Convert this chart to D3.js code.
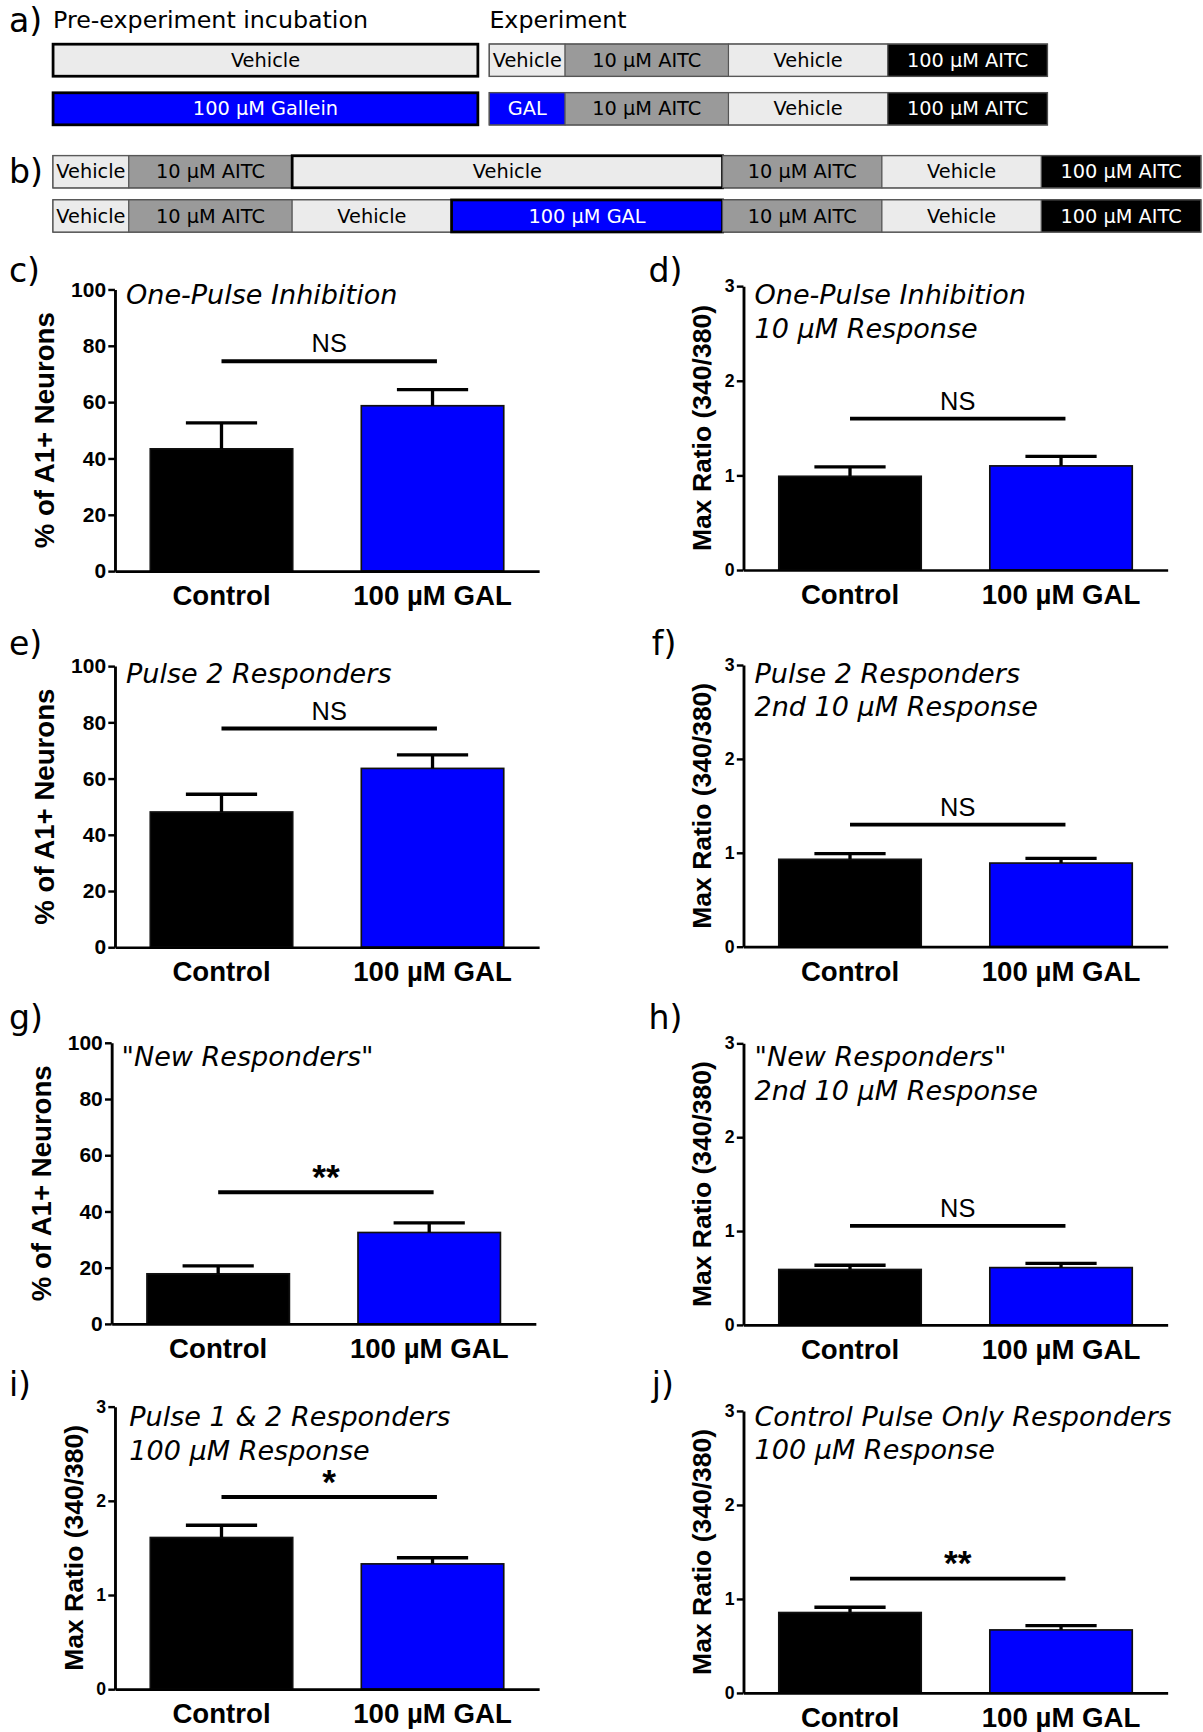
<!DOCTYPE html>
<html>
<head>
<meta charset="utf-8">
<script src="https://cdn.jsdelivr.net/npm/d3@7"></script>
<style>
  body { margin: 0; background: #fff; }
  svg { display: block; }
  .seg-label { font-family: 'DejaVu Sans', Verdana, sans-serif; font-size: 17.5px; }
  .head { font-family: 'DejaVu Sans', Verdana, sans-serif; font-size: 21.5px; }
  .plabel { font-family: 'DejaVu Sans', Verdana, sans-serif; font-size: 30px; }
  .title { font-family: 'DejaVu Sans', Verdana, sans-serif; font-size: 24.5px; font-style: italic; }
  .axis text { font-family: 'Liberation Sans', Arial, sans-serif; font-weight: bold; fill: #000; }
  .ylab { font-family: 'Liberation Sans', Arial, sans-serif; font-weight: bold; font-size: 25px; }
  .sig { font-family: 'Liberation Sans', Arial, sans-serif; font-size: 23px; }
</style>
</head>
<body>
<div id="figure"></div>
<script>
// ---- protocol timelines (segment boundaries in protocol time units) ----
var preTimes = [0, 5.33];
var preLabelsCtl = ['Vehicle'];
var preLabelsGal = ['100 µM Gallein'];
var preKindsCtl = ['veh'];
var preKindsGal = ['gal'];

var expTimes = [0, 0.95, 3, 5, 7];
var expLabelsCtl = ['Vehicle', '10 µM AITC', 'Vehicle', '100 µM AITC'];
var expLabelsGal = ['GAL', '10 µM AITC', 'Vehicle', '100 µM AITC'];
var expKindsCtl = ['veh', 'aitc10', 'veh', 'aitc100'];
var expKindsGal = ['gal', 'aitc10', 'veh', 'aitc100'];

var bTimesCtl = [0, 0.95, 3, 8.4, 10.4, 12.4, 14.4];
var bLabelsCtl = ['Vehicle', '10 µM AITC', 'Vehicle', '10 µM AITC', 'Vehicle', '100 µM AITC'];
var bKindsCtl = ['veh', 'aitc10', 'vehInc', 'aitc10', 'veh', 'aitc100'];
var bTimesGal = [0, 0.95, 3, 5, 8.4, 10.4, 12.4, 14.4];
var bLabelsGal = ['Vehicle', '10 µM AITC', 'Vehicle', '100 µM GAL', '10 µM AITC', 'Vehicle', '100 µM AITC'];
var bKindsGal = ['veh', 'aitc10', 'veh', 'galInc', 'aitc10', 'veh', 'aitc100'];

// ---- bar charts ----
var groups = ['Control', '100 µM GAL'];
var pctTicks = [0, 20, 40, 60, 80, 100];
var ratioTicks = [0, 1, 2, 3];

var cMean = [43.4, 58.7], cSem = [9.2, 5.7];
var dMean = [0.99, 1.10], dSem = [0.10, 0.10];
var eMean = [48.1, 63.6], eSem = [6.3, 4.8];
var fMean = [0.93, 0.89], fSem = [0.06, 0.05];
var gMean = [17.8, 32.5], gSem = [2.8, 3.4];
var hMean = [0.59, 0.61], hSem = [0.045, 0.045];
var iMean = [1.61, 1.33], iSem = [0.13, 0.065];
var jMean = [0.855, 0.67], jSem = [0.056, 0.045];

var sigText = { c: 'NS', d: 'NS', e: 'NS', f: 'NS', g: '**', h: 'NS', i: '*', j: '**' };
var sigLevel = { c: 74.5, d: 1.60, e: 77.8, f: 1.30, g: 46.8, h: 1.055, i: 2.04, j: 1.215 };

var titles = {
  c: ['One-Pulse Inhibition'],
  d: ['One-Pulse Inhibition', '10 µM Response'],
  e: ['Pulse 2 Responders'],
  f: ['Pulse 2 Responders', '2nd 10 µM Response'],
  g: ['"New Responders"'],
  h: ['"New Responders"', '2nd 10 µM Response'],
  i: ['Pulse 1 & 2 Responders', '100 µM Response'],
  j: ['Control Pulse Only Responders', '100 µM Response']
};

var fills = { veh: '#ebebeb', vehInc: '#ebebeb', aitc10: '#9a9a9a', aitc100: '#000', gal: '#0000ff', galInc: '#0000ff' };
var textFill = { veh: '#000', vehInc: '#000', aitc10: '#000', aitc100: '#fff', gal: '#fff', galInc: '#fff' };

var svg = d3.select('#figure').append('svg')
  .attr('width', 1203).attr('height', 1732)
  .attr('viewBox', '0 0 1089 1568');

var t = d3.scaleLinear().domain([0, 14.4]).range([0, 1039]);

function timelineRow(x0, y0, times, labels, kinds) {
  var h = 29;
  var segs = labels.map(function(l, i) { return { label: l, kind: kinds[i], t0: times[i], t1: times[i + 1] }; });
  var g = svg.append('g').attr('transform', 'translate(' + x0 + ',' + y0 + ')');
  g.append('rect')
    .attr('x', t(times[0])).attr('y', 0)
    .attr('width', t(times[times.length - 1]) - t(times[0])).attr('height', h)
    .attr('fill', 'none').attr('stroke', '#444').attr('stroke-width', 1.5);
  g.selectAll('rect.seg').data(segs).enter().append('rect')
    .attr('class', 'seg')
    .attr('x', function(d) { return t(d.t0); })
    .attr('y', 0)
    .attr('width', function(d) { return t(d.t1) - t(d.t0); })
    .attr('height', h)
    .attr('fill', function(d) { return fills[d.kind]; })
    .attr('stroke', function(d) { return /Inc$/.test(d.kind) ? '#000' : '#555'; })
    .attr('stroke-width', function(d) { return /Inc$/.test(d.kind) ? 2.5 : 1; });
  g.selectAll('text').data(segs).enter().append('text')
    .attr('class', 'seg-label')
    .attr('x', function(d) { return (t(d.t0) + t(d.t1)) / 2; })
    .attr('y', h / 2 + 6)
    .attr('text-anchor', 'middle')
    .attr('fill', function(d) { return textFill[d.kind]; })
    .text(function(d) { return d.label; });
}

// panel a
svg.append('text').attr('class', 'plabel').attr('x', 8).attr('y', 29).text('a)');
svg.append('text').attr('class', 'head').attr('x', 48).attr('y', 25).text('Pre-experiment incubation');
svg.append('text').attr('class', 'head').attr('x', 443).attr('y', 25).text('Experiment');
timelineRow(48, 40, preTimes, preLabelsCtl, preKindsCtl.map(function(k) { return k + 'Inc'; }));
timelineRow(443, 40, expTimes, expLabelsCtl, expKindsCtl);
timelineRow(48, 84, preTimes, preLabelsGal, preKindsGal.map(function(k) { return k + 'Inc'; }));
timelineRow(443, 84, expTimes, expLabelsGal, expKindsGal);

// panel b
svg.append('text').attr('class', 'plabel').attr('x', 8).attr('y', 166).text('b)');
timelineRow(48, 141, bTimesCtl, bLabelsCtl, bKindsCtl);
timelineRow(48, 181, bTimesGal, bLabelsGal, bKindsGal);

// bar chart panels
var panels = [
  { id: 'c', mean: cMean, sem: cSem, ratio: false, left: 104, top: 262, bottom: 517, lx: 8, ly: 255, tOff: [13] },
  { id: 'd', mean: dMean, sem: dSem, ratio: true, left: 673, top: 259, bottom: 516, lx: 587, ly: 255, tOff: [16, 47] },
  { id: 'e', mean: eMean, sem: eSem, ratio: false, left: 104, top: 603, bottom: 857.5, lx: 8, ly: 593, tOff: [15] },
  { id: 'f', mean: fMean, sem: fSem, ratio: true, left: 673, top: 602, bottom: 857, lx: 590, ly: 593, tOff: [16, 46] },
  { id: 'g', mean: gMean, sem: gSem, ratio: false, left: 101, top: 944, bottom: 1198.5, lx: 8, ly: 932, tOff: [21] },
  { id: 'h', mean: hMean, sem: hSem, ratio: true, left: 673, top: 944.5, bottom: 1199.4, lx: 587, ly: 932, tOff: [20.5, 51.5] },
  { id: 'i', mean: iMean, sem: iSem, ratio: true, left: 104, top: 1273.4, bottom: 1529.2, lx: 8, ly: 1264, tOff: [18, 48] },
  { id: 'j', mean: jMean, sem: jSem, ratio: true, left: 673, top: 1277.3, bottom: 1532.6, lx: 590, ly: 1264, tOff: [14, 44] }
];

panels.forEach(function(p) {
  var g = svg.append('g');
  var max = p.ratio ? 3 : 100;
  var y = d3.scaleLinear().domain([0, max]).range([p.bottom, p.top]);
  var x = d3.scaleBand().domain(groups).range([p.left, p.left + 384])
    .paddingInner(0.325).paddingOuter(0.1675);
  var bw = x.bandwidth();
  var rows = groups.map(function(k, i) { return { key: k, mean: p.mean[i], sem: p.sem[i], i: i }; });

  // bars
  g.selectAll('rect.bar').data(rows).enter().append('rect')
    .attr('class', 'bar')
    .attr('x', function(d) { return x(d.key); })
    .attr('y', function(d) { return y(d.mean); })
    .attr('width', bw)
    .attr('height', function(d) { return y(0) - y(d.mean); })
    .attr('fill', function(d) { return d.i ? '#0000ff' : '#000'; })
    .attr('stroke', '#111').attr('stroke-width', 1.5);

  // error bars (upper half only)
  g.selectAll('line.err').data(rows).enter().append('line')
    .attr('x1', function(d) { return x(d.key) + bw / 2; })
    .attr('x2', function(d) { return x(d.key) + bw / 2; })
    .attr('y1', function(d) { return y(d.mean); })
    .attr('y2', function(d) { return y(d.mean + d.sem); })
    .attr('stroke', '#000').attr('stroke-width', 3);
  g.selectAll('line.cap').data(rows).enter().append('line')
    .attr('x1', function(d) { return x(d.key) + bw / 4; })
    .attr('x2', function(d) { return x(d.key) + bw * 3 / 4; })
    .attr('y1', function(d) { return y(d.mean + d.sem); })
    .attr('y2', function(d) { return y(d.mean + d.sem); })
    .attr('stroke', '#000').attr('stroke-width', 3);

  // axes
  var ya = g.append('g').attr('class', 'axis')
    .attr('transform', 'translate(' + p.left + ',0)')
    .call(d3.axisLeft(y).tickValues(p.ratio ? ratioTicks : pctTicks).tickFormat(d3.format('d'))
      .tickSize(6).tickSizeOuter(0).tickPadding(2));
  ya.selectAll('text').style('font-size', p.ratio ? '16px' : '19px');
  ya.selectAll('line').attr('stroke-width', 2.2);
  ya.select('.domain').attr('stroke-width', 2.6);

  var xa = g.append('g').attr('class', 'axis')
    .attr('transform', 'translate(0,' + p.bottom + ')')
    .call(d3.axisBottom(x).tickSize(0).tickSizeOuter(0).tickPadding(13));
  xa.selectAll('text').style('font-size', '25px');
  xa.select('.domain').attr('stroke-width', 2.4);

  // y label
  g.append('text').attr('class', 'ylab')
    .attr('transform', 'translate(' + (p.left - (p.ratio ? 29 : 55)) + ',' + ((p.top + p.bottom) / 2) + ') rotate(-90)')
    .attr('text-anchor', 'middle')
    .style('font-size', p.ratio ? '24px' : '25px')
    .text(p.ratio ? 'Max Ratio (340/380)' : '% of A1+ Neurons');

  // significance bracket
  var sy = y(sigLevel[p.id]);
  var cx0 = x(groups[0]) + bw / 2, cx1 = x(groups[1]) + bw / 2 + 4;
  g.append('line')
    .attr('x1', cx0).attr('x2', cx1).attr('y1', sy).attr('y2', sy)
    .attr('stroke', '#000').attr('stroke-width', 3.5);
  var star = sigText[p.id] !== 'NS';
  g.append('text').attr('class', 'sig')
    .attr('x', (cx0 + cx1) / 2)
    .attr('y', star ? sy - 3 : sy - 8)
    .attr('text-anchor', 'middle')
    .style('font-size', star ? '32px' : '23px')
    .style('font-weight', star ? 'bold' : 'normal')
    .text(sigText[p.id]);

  // title
  g.selectAll('text.title').data(titles[p.id]).enter().append('text')
    .attr('class', 'title')
    .attr('x', p.left + (p.id === 'i' ? 13 : p.id === 'g' ? 9 : 10))
    .attr('y', function(d, i) { return p.top + p.tOff[i]; })
    .text(function(d) { return d; });

  svg.append('text').attr('class', 'plabel').attr('x', p.lx).attr('y', p.ly).text(p.id + ')');
});
</script>
</body>
</html>
